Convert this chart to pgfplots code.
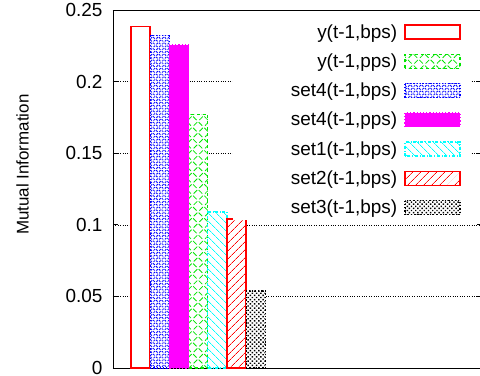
\documentclass[border=0pt]{standalone}
\usepackage{fontspec}
\setmainfont{Liberation Sans}
\usepackage{pgfplots}
\pgfplotsset{compat=1.18}
\usetikzlibrary{patterns,patterns.meta}
\definecolor{gpgreen}{rgb}{0,0.9,0}
\definecolor{gpmagenta}{rgb}{1,0,1}
\definecolor{gpcyan}{rgb}{0,1,1}
\definecolor{gpred}{rgb}{1,0,0}
\definecolor{gpblue}{rgb}{0,0,1}
\newcommand{\lt}[1]{\makebox[155bp][r]{#1}}
\begin{document}
\begin{tikzpicture}
\begin{axis}[
 name=ax,
 scale only axis,
 width=369bp, height=358bp,
 xmin=-1.4375, xmax=17.78,
 ymin=0, ymax=0.25,
 ytick={0,0.05,0.1,0.15,0.2,0.25},
 yticklabels={0,0.05,0.1,0.15,0.2,0.25},
 xtick=\empty,
 ymajorgrids,
 grid style={black, dotted, line width=0.5bp},
 tick align=inside,
 major tick length=5bp,
 ytick style={black, line width=0.6bp},
 ybar, bar width=1, bar shift=0pt,
 font=\fontsize{19}{23}\selectfont,
 yticklabel style={xshift=-7bp},
 ylabel={Mutual Information},
 ylabel style={font=\fontsize{17}{20}\selectfont, at={(axis description cs:-0.2453,0.568)}, anchor=center},
 axis line style={line width=0.8bp},
 legend image code/.code={\draw[#1] (0bp,-7bp) rectangle (55bp,7bp);},
 legend plot pos=right,
 legend cell align=right,
 legend style={at={(axis description cs:0.9675,0.975)}, anchor=north east, draw=none, fill=white,
   nodes={inner sep=0pt}, row sep=14bp, column sep=7bp, inner xsep=9bp, inner ysep=5bp,
   font=\fontsize{19}{23}\selectfont},
]
\addplot[draw=gpred, line width=1.6bp, fill=white] coordinates {(0,0.2385)};
\addlegendentry{\lt{y(t-1,bps)}}
\addplot[draw=gpgreen, dashed, line width=1.2bp, preaction={fill=white}, pattern={Hatch[angle=45,distance=8bp,line width=0.8bp]}, pattern color=gpgreen] coordinates {(3,0.177)};
\addlegendentry{y(t-1,pps)}
\addplot[draw=gpblue, dotted, line width=1.2bp, preaction={fill=white}, pattern={Hatch[angle=45,distance=4bp,line width=0.9bp]}, pattern color=gpblue] coordinates {(1,0.232)};
\addlegendentry{set4(t-1,bps)}
\addplot[draw=gpmagenta, dotted, line width=1.2bp, fill=gpmagenta] coordinates {(2,0.2256)};
\addlegendentry{set4(t-1,pps)}
\addplot[draw=gpcyan, dashdotted, line width=1.2bp, preaction={fill=white}, pattern={Lines[angle=-45,distance=6bp,line width=0.8bp]}, pattern color=gpcyan] coordinates {(4,0.109)};
\addlegendentry{set1(t-1,bps)}
\addplot[draw=gpred, line width=1.6bp, preaction={fill=white}, pattern={Lines[angle=45,distance=6bp,line width=0.8bp]}, pattern color=gpred] coordinates {(5,0.104)};
\addlegendentry{set2(t-1,bps)}
\addplot[draw=black, dotted, line width=1.2bp, preaction={fill=white}, pattern={Dots[angle=45,distance=3bp,radius=1bp]}, pattern color=black] coordinates {(6,0.0538)};
\addlegendentry{set3(t-1,bps)}
\end{axis}
\pgfresetboundingbox
\useasboundingbox ([xshift=-113bp,yshift=-8bp]ax.south west) rectangle ([xshift=367bp,yshift=368bp]ax.south west);
\end{tikzpicture}
\end{document}
